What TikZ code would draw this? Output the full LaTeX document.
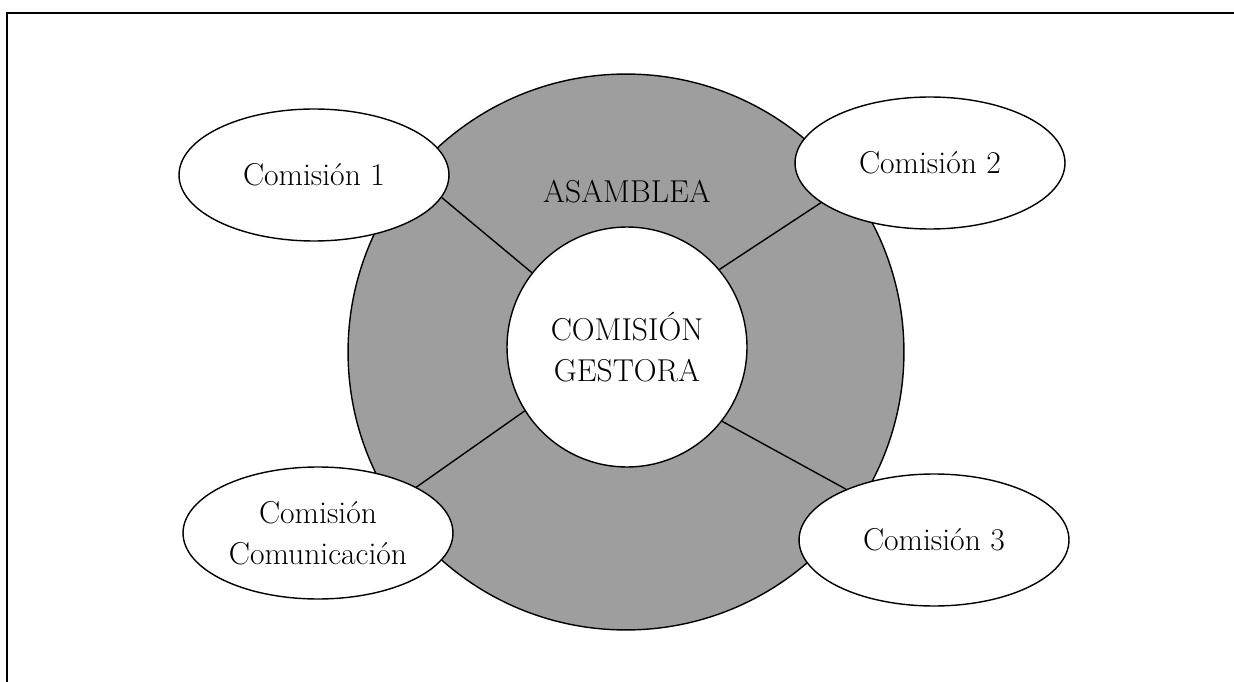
\documentclass[tikz,border=0pt]{standalone}
\usetikzlibrary{shapes.geometric}
\definecolor{asambleagris}{RGB}{158,158,158}
\begin{document}
\begin{tikzpicture}[x=0.02cm, y=-0.02cm, thick, font=\fontsize{18}{23}\selectfont,
    comision/.style = {draw, ellipse, fill=white, minimum width=5.4cm, minimum height=2.64cm, align=center, inner sep=0pt},
    rueda/.style = {draw, circle, inner sep=0pt}]
    \useasboundingbox (0,0) rectangle (1234,682);
    \coordinate (esq) at (7,13);
    \draw[line width=1.2pt] (1234,13) -- (esq) -- (7,682);
    \node[rueda, fill=asambleagris, minimum size=11.12cm] (asamblea) at (626,352) {};
    \node (titulo) at (627,192) {ASAMBLEA};
    \node[rueda, fill=white, minimum size=4.8cm, align=center] (gestora) at (627,347) {COMISIÓN\\GESTORA};
    \node[comision] (c1) at (314,175) {Comisión 1};
    \node[comision] (c2) at (930,163) {Comisión 2};
    \node[comision] (cc) at (318,533) {Comisión\\Comunicación};
    \node[comision] (c3) at (934,540) {Comisión 3};
    \draw (gestora.142) -- (c1.-10);
    \draw (gestora.40) -- (c2.200);
    \draw (gestora.212) -- (cc.25);
    \draw (gestora.-38) -- (c3.150);
\end{tikzpicture}
\end{document}
